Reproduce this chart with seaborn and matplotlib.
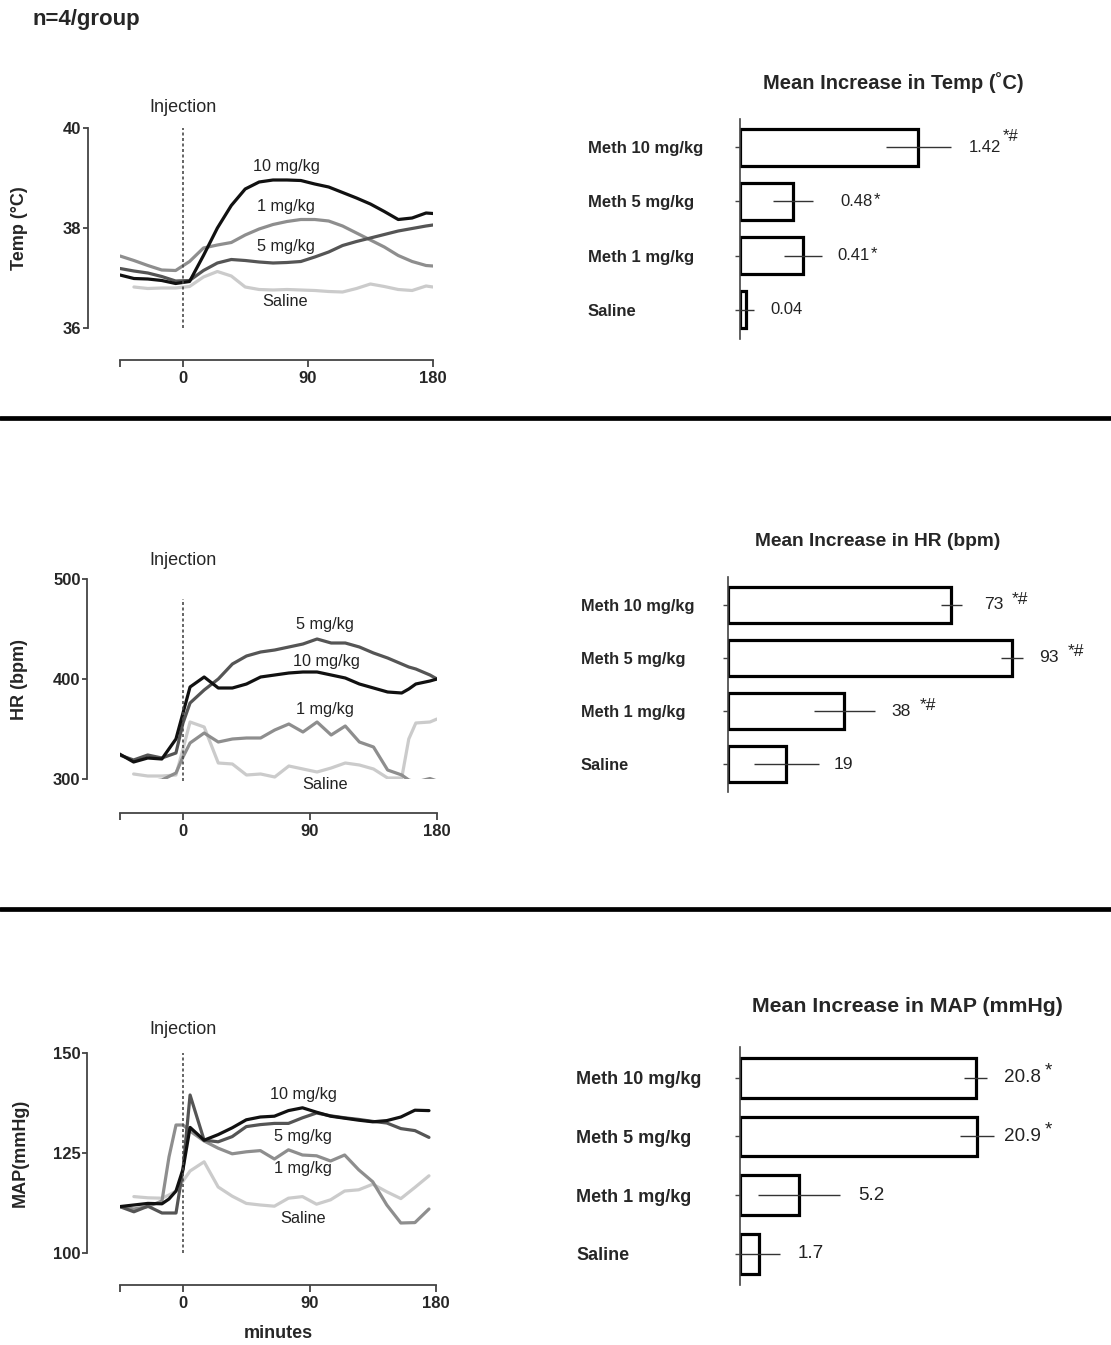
import matplotlib.pyplot as plt
import matplotlib.lines as mlines
import numpy as np
import pandas as pd
import seaborn as sns

sns.set_theme(style="ticks")
plt.rcParams["font.family"] = ["Liberation Sans", "DejaVu Sans"]

nan = np.nan

# ---------------- time-course data ----------------
doses = ["10 mg/kg", "5 mg/kg", "1 mg/kg", "Saline"]
dose_colors = {"10 mg/kg": "#111111", "5 mg/kg": "#555555",
               "1 mg/kg": "#8e8e8e", "Saline": "#cbcbcb"}

temp_minutes = [-45, -35, -25, -15, -5, 5, 15, 25, 35, 45, 55, 65, 75, 85,
                95, 105, 115, 125, 135, 145, 155, 165, 175, 180]
temp_10 = [37.06, 36.99, 36.98, 36.95, 36.89, 36.93, 37.45, 38.00, 38.45, 38.78,
           38.92, 38.96, 38.96, 38.95, 38.88, 38.82, 38.71, 38.60, 38.48, 38.33,
           38.17, 38.20, 38.30, 38.29]
temp_5 = [37.19, 37.14, 37.10, 37.03, 36.94, 36.95, 37.15, 37.30, 37.37, 37.35,
          37.32, 37.30, 37.31, 37.33, 37.42, 37.52, 37.65, 37.73, 37.80, 37.87,
          37.94, 37.99, 38.04, 38.06]
temp_1 = [37.44, 37.35, 37.25, 37.16, 37.15, 37.33, 37.60, 37.66, 37.71, 37.86,
          37.98, 38.07, 38.13, 38.17, 38.17, 38.14, 38.04, 37.90, 37.76, 37.62,
          37.45, 37.33, 37.25, 37.24]
temp_sal = [nan, 36.82, 36.79, 36.80, 36.80, 36.83, 37.02, 37.13, 37.04, 36.82,
            36.77, 36.76, 36.77, 36.76, 36.75, 36.73, 36.72, 36.79, 36.88, 36.83,
            36.77, 36.75, 36.84, 36.82]

hr_minutes = [-45, -35, -25, -15, -5, 0, 5, 15, 25, 35, 45, 55, 65, 75, 85, 95,
              105, 115, 125, 135, 145, 155, 160, 165, 175, 180]
hr_10 = [325, 317, 321, 320, 340, 366, 392, 402, 391, 391, 395, 402, 404, 406,
         407, 407, 404, 401, 395, 391, 387, 386, 390, 395, 398, 400]
hr_5 = [324, 319, 324, 321, 326, 356, 376, 389, 400, 415, 423, 427, 429, 432,
        435, 440, 436, 436, 432, 426, 421, 415, 412, 410, 404, 400]
hr_1 = [297, 296, 297, 299, 306, 322, 336, 346, 337, 340, 341, 341, 349, 355,
        347, 357, 344, 353, 337, 332, 309, 304, 299, 297, 300.5, 298]
hr_sal = [nan, 305, 303, 303, 304, 330, 357, 352, 316, 315, 304, 305, 302, 313,
          310, 307, 311, 316, 314, 310, 301, 301, 340, 356, 357, 360]

map_minutes = [-45, -35, -25, -15, -10, -5, 0, 5, 15, 25, 35, 45, 55, 65, 75,
               85, 95, 105, 115, 125, 135, 145, 155, 165, 175]
map_10 = [111.6, 112.0, 112.4, 112.3, 113.5, 115.5, 121.0, 131.4, 128.2, 129.6,
          131.3, 133.3, 134.0, 134.2, 135.6, 136.3, 135.2, 134.2, 133.7, 133.2,
          132.8, 133.1, 134.0, 135.7, 135.6]
map_5 = [111.6, 110.3, 111.7, 110.0, 110.0, 110.0, 121.0, 139.5, 128.2, 127.8,
         129.1, 131.6, 132.1, 132.4, 132.4, 133.8, 135.0, 134.3, 133.8, 133.4,
         132.9, 132.5, 131.1, 130.6, 128.9]
map_1 = [111.6, 111.0, 111.6, 113.0, 124.0, 132.0, 132.0, 130.5, 128.0, 126.2,
         124.8, 125.3, 125.6, 123.5, 125.8, 124.5, 124.3, 123.0, 124.5, 120.8,
         117.8, 112.0, 107.5, 107.6, 111.0]
map_sal = [nan, 114.1, 113.8, 113.7, 114.5, 115.5, 118.0, 120.5, 122.8, 116.5,
           114.2, 112.4, 112.0, 111.7, 113.7, 114.1, 112.2, 113.3, 115.5, 115.8,
           117.2, 115.3, 113.6, 116.4, 119.3]

x_ticks = [-45, 0, 90, 180]
x_tick_labels = ["", "0", "90", "180"]

# ---------------- mean increase data ----------------
bar_groups = ["Meth 10 mg/kg", "Meth 5 mg/kg", "Meth 1 mg/kg", "Saline"]

temp_inc = [1.42, 0.42, 0.50, 0.045]
temp_sem = [0.26, 0.16, 0.15, 0.065]
temp_text = ["1.42", "0.48", "0.41", "0.04"]
temp_sig = ["*#", "*", "*", ""]

hr_inc = [73, 93, 38, 19]
hr_sem = [3.4, 3.6, 10.0, 10.7]
hr_text = ["73", "93", "38", "19"]
hr_sig = ["*#", "*#", "*#", ""]

map_inc = [20.8, 20.9, 5.2, 1.7]
map_sem = [1.0, 1.5, 3.6, 1.8]
map_text = ["20.8", "20.9", "5.2", "1.7"]
map_sig = ["*", "*", "", ""]

# ---------------- layout (pixels) ----------------
W, H = 1111, 1345
PT = 0.72  # points per pixel at dpi 100

fig = plt.figure(figsize=(W / 100, H / 100), dpi=100)


def box(x0, y0, x1, y1):
    return [x0 / W, 1 - y1 / H, (x1 - x0) / W, (y1 - y0) / H]


def long_df(minutes, series):
    frames = [pd.DataFrame({"minutes": minutes, "value": vals, "dose": d})
              for d, vals in zip(doses, series)]
    return pd.concat(frames, ignore_index=True).dropna()


def line_panel(rect, minutes, series, ylim, yticks, ylabel, inj_span, inj_off,
               label_pos, left_off, bottom_off, xlabel=None):
    ax = fig.add_axes(box(*rect))
    sns.lineplot(data=long_df(minutes, series), x="minutes", y="value",
                 hue="dose", hue_order=doses[::-1], palette=dose_colors,
                 estimator=None, linewidth=2.3, legend=False, ax=ax)
    ax.set_xlim(-45, 180)
    ax.set_ylim(*ylim)
    ax.plot([0, 0], inj_span, color="#4a4a4a", lw=1.2,
            linestyle=(0, (1.8, 1.5)), clip_on=False, zorder=5)
    ax.annotate("Injection", xy=(0, ylim[1]), xytext=(0, inj_off * PT),
                textcoords="offset points", ha="center", va="center",
                fontsize=13, annotation_clip=False)
    for d, (lx, ly) in zip(doses, label_pos):
        ax.text(lx, ly, d, ha="center", va="center", fontsize=11.7,
                color="#222222")

    for side in ["top", "right"]:
        ax.spines[side].set_visible(False)
    ax.spines["left"].set_position(("outward", left_off * PT))
    ax.spines["bottom"].set_position(("outward", bottom_off * PT))
    for side in ["left", "bottom"]:
        ax.spines[side].set_color("#444444")
        ax.spines[side].set_linewidth(1.3)

    ax.set_xticks(x_ticks, labels=x_tick_labels, fontweight="bold", fontsize=12)
    ax.set_yticks(yticks, labels=[str(v) for v in yticks], fontweight="bold",
                  fontsize=12)
    ax.tick_params(axis="x", length=5, width=1.3, color="#444444", pad=3)
    ax.tick_params(axis="y", length=3.6, width=1.3, color="#444444", pad=1)

    ax.set_ylabel(ylabel, fontsize=13, fontweight="bold", va="center",
                  ha="center")
    ax.yaxis.set_label_coords(20 / W, 1 - (rect[1] + rect[3]) / 2 / H,
                              transform=fig.transFigure)
    if xlabel:
        ax.set_xlabel(xlabel, fontsize=13, fontweight="bold", va="center",
                      ha="center")
        ax.xaxis.set_label_coords(278 / W, 1 - 1333 / H,
                                  transform=fig.transFigure)
    else:
        ax.set_xlabel("")
    return ax


def bar_panel(rect, xmax, vals, errs, texts, sigs, width, tick_fs, label_px,
              val_fs, gaps, raises, sig_gap, title, title_xy, title_fs):
    ax = fig.add_axes(box(*rect))
    df = pd.DataFrame({"group": bar_groups, "value": vals})
    sns.barplot(data=df, x="value", y="group", orient="h", color="white",
                saturation=1, edgecolor="black", linewidth=2.3, width=width,
                errorbar=None, ax=ax)
    pos = np.arange(len(vals))
    ax.errorbar(vals, pos, xerr=errs, fmt="none", ecolor="#333333",
                elinewidth=1.0, capsize=0, zorder=5)
    ax.set_xlim(0, xmax)

    for side in ["top", "right", "bottom"]:
        ax.spines[side].set_visible(False)
    ax.spines["left"].set_color("#444444")
    ax.spines["left"].set_linewidth(1.2)
    ax.xaxis.set_visible(False)
    ax.set_ylabel("")

    pad = (rect[0] - label_px) * PT - 3.6
    ax.set_yticks(ax.get_yticks(), labels=bar_groups, ha="left",
                  fontweight="bold", fontsize=tick_fs)
    ax.tick_params(axis="y", length=3.6, width=1.0, color="#444444", pad=pad)

    for i in range(len(vals)):
        t = ax.annotate(texts[i], xy=(vals[i] + errs[i], pos[i]),
                        xytext=(gaps[i] * PT, 0), textcoords="offset points",
                        ha="left", va="center", fontsize=val_fs,
                        color="#222222", annotation_clip=False)
        if sigs[i]:
            ax.annotate(sigs[i], xy=(1, 0), xycoords=t,
                        xytext=(sig_gap * PT, raises[i] * PT),
                        textcoords="offset points", ha="left", va="bottom",
                        fontsize=val_fs, color="#222222")
    fig.text(title_xy[0] / W, 1 - title_xy[1] / H, title, ha="center",
             va="center", fontsize=title_fs, fontweight="bold")
    return ax


# ---- temperature row ----
line_panel((120, 128, 433, 328), temp_minutes, [temp_10, temp_5, temp_1, temp_sal],
           (36, 40), [36, 38, 40], "Temp (°C)", (36, 40), 20,
           [(74.6, 39.22), (74.0, 37.64), (74.0, 38.42), (74.0, 36.52)], 32, 32)
bar_panel((740, 118.5, 1100, 338.5), 360 / 125.6, temp_inc, temp_sem, temp_text,
          temp_sig, 0.70, 12, 588, 12, [18, 28, 16, 17], [11, 2, 2, 0], 1,
          "Mean Increase in Temp (˚C)", (893, 83), 14.5)

# ---- heart rate row ----
line_panel((119.5, 579, 437, 779), hr_minutes, [hr_10, hr_5, hr_1, hr_sal],
           (300, 500), [300, 400, 500], "HR (bpm)", (298, 480), 18,
           [(101.3, 417), (100.6, 454), (100.6, 369), (100.6, 294)], 32.5, 34)
bar_panel((728.3, 577.2, 1100, 791.8), 371.7 / 3.054, hr_inc, hr_sem, hr_text,
          hr_sig, 0.67, 11.8, 580.7, 12.6, [22, 16, 16, 15], [5, 6, 6, 0], 9,
          "Mean Increase in HR (bpm)", (878, 542), 13.8)

# ---- blood pressure row ----
line_panel((119.8, 1053, 436, 1253), map_minutes, [map_10, map_5, map_1, map_sal],
           (100, 150), [100, 125, 150], "MAP(mmHg)", (100, 150), 23,
           [(85.4, 139.5), (85.4, 129.0), (85.4, 121.2), (85.4, 108.7)], 32.8, 32,
           xlabel="minutes")
bar_panel((740, 1047, 1100, 1284.7), 360 / 11.33, map_inc, map_sem, map_text,
          map_sig, 0.68, 13, 576, 13.6, [16.6, 10, 18.3, 18.3], [7, 7, 0, 0], 4,
          "Mean Increase in MAP (mmHg)", (907, 1007), 15.3)

# ---- decorations ----
fig.text(33 / W, 1 - 20 / H, "n=4/group", ha="left", va="center", fontsize=16,
         fontweight="bold")
for y_sep in (418, 908.5):
    fig.add_artist(mlines.Line2D([0, 1], [1 - y_sep / H] * 2,
                                 transform=fig.transFigure, color="black",
                                 lw=3.4))

fig.savefig("out.png", dpi=100)
